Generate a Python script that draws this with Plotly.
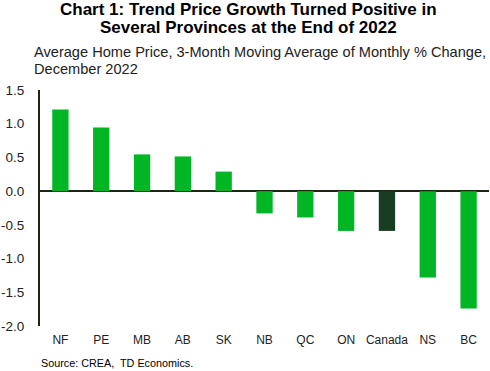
import plotly.graph_objects as go

categories = ["NF", "PE", "MB", "AB", "SK", "NB", "QC", "ON", "Canada", "NS", "BC"]
values = [1.21, 0.945, 0.545, 0.515, 0.29, -0.33, -0.39, -0.59, -0.59, -1.28, -1.74]
y_ticks = [1.5, 1.0, 0.5, 0.0, -0.5, -1.0, -1.5, -2.0]
y_tick_labels = ["1.5", "1.0", "0.5", "0.0", "-0.5", "-1.0", "-1.5", "-2.0"]
title_lines = ["<b>Chart 1: Trend Price Growth Turned Positive in</b>",
               "<b>Several Provinces at the End of 2022</b>"]
subtitle_lines = ["Average Home Price, 3-Month Moving Average of Monthly % Change,",
                  "December 2022"]
source_text = "Source: CREA,  TD Economics."

colors = ["#173d22" if c == "Canada" else "#00b624" for c in categories]

W, H = 490, 371
ML, MR, MT, MB = 35, 1, 90, 45
PH = H - MT - MB
PW = W - ML - MR


def px(x):
    return (x - ML) / PW


def py(y):
    return (H - MB - y) / PH


fig = go.Figure(go.Bar(x=categories, y=values, marker=dict(color=colors, line=dict(width=0)),
                       width=0.4))

font = "Liberation Sans, Arial, sans-serif"
ann = []
for i, t in enumerate(title_lines):
    ann.append(dict(text=t, x=px(246), y=py(9 + 18 * i), xref="paper", yref="paper",
                    xanchor="center", yanchor="middle", showarrow=False,
                    font=dict(size=17, family=font, color="#000000")))
for i, t in enumerate(subtitle_lines):
    ann.append(dict(text=t, x=px(27), y=py(52 + 17 * i), xref="paper", yref="paper",
                    xanchor="left", yanchor="middle", showarrow=False,
                    font=dict(size=14.6, family=font, color="#222222")))
ann.append(dict(text=source_text, x=px(34), y=py(363), xref="paper", yref="paper",
                xanchor="left", yanchor="middle", showarrow=False,
                font=dict(size=10.8, family=font, color="#000000")))

fig.update_layout(
    width=W, height=H,
    margin=dict(l=ML, r=MR, t=MT, b=MB),
    paper_bgcolor="white", plot_bgcolor="white",
    showlegend=False,
    font=dict(family=font, color="#000000"),
    annotations=ann,
)

fig.update_xaxes(showgrid=False, showline=False, ticks="", tickfont=dict(size=12, color="#222222"),
                 zeroline=False, ticklabelstandoff=5)
fig.update_yaxes(range=[-2.0, 1.5], tickvals=y_ticks, ticktext=y_tick_labels, showgrid=False,
                 showline=True, linecolor="#1c2610", linewidth=2, ticks="", ticklabelstandoff=11,
                 tickfont=dict(size=13.5, color="#222222"),
                 zeroline=True, zerolinecolor="#1c2610", zerolinewidth=2)

fig.write_html("out.html", config={"displayModeBar": False},
               post_script="document.body.style.margin='0';document.body.style.overflow='hidden';")
